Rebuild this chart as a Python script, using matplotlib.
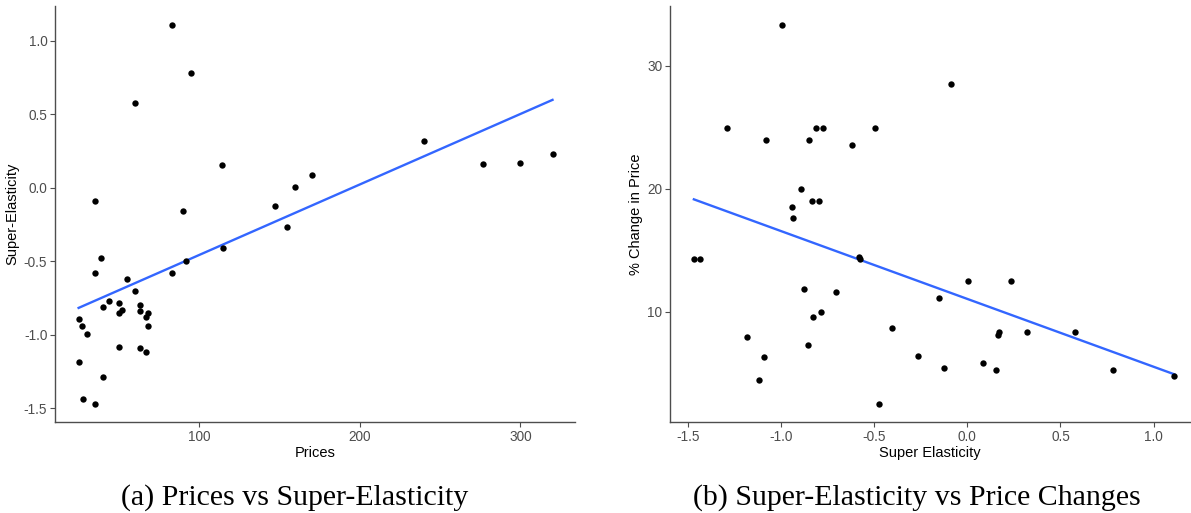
import matplotlib

matplotlib.use("Agg")
import matplotlib.pyplot as plt
import numpy as np

# one row per product: price, super-elasticity, % change in price
prices = [83, 94.8, 60, 240, 320, 300, 277, 114, 170, 160,
          35, 147, 90, 155, 115, 39, 92, 35, 83, 55,
          60, 44, 50, 63, 40, 52, 63, 50, 68, 67,
          25, 68, 27, 30, 50, 63, 67, 25, 40, 28, 35]
super_el = [1.11, 0.78, 0.58, 0.32, 0.232, 0.172, 0.166, 0.155, 0.086, 0.005,
            -0.088, -0.125, -0.154, -0.266, -0.406, -0.475, -0.495, -0.575, -0.58, -0.62,
            -0.704, -0.772, -0.785, -0.798, -0.81, -0.829, -0.834, -0.849, -0.853, -0.876,
            -0.894, -0.936, -0.942, -0.992, -1.082, -1.089, -1.118, -1.183, -1.287, -1.434, -1.467]
pct_change = [4.82, 5.25, 8.34, 8.34, 12.48, 8.34, 8.12, 5.25, 5.88, 12.48,
              28.55, 5.44, 11.1, 6.44, 8.67, 2.55, 24.98, 14.3, 14.5, 23.6,
              11.64, 24.98, 10.0, 19.03, 24.98, 9.59, 19.03, 23.98, 7.34, 11.9,
              20.0, 17.6, 18.5, 33.3, 23.98, 6.34, 4.47, 7.99, 24.98, 14.26, 14.26]

prices = np.array(prices)
super_el = np.array(super_el)
pct_change = np.array(pct_change)

W, H = 1191, 513
BLUE = "#3366FF"
AXC = "#4d4d4d"
SANS = ["Liberation Sans", "DejaVu Sans"]
SERIF = ["Liberation Serif", "DejaVu Serif"]

fig = plt.figure(figsize=(W / 100, H / 100), dpi=100)


def px_axes(x0, x1, y0, y1):
    return fig.add_axes([x0 / W, 1 - y1 / H, (x1 - x0) / W, (y1 - y0) / H])


def style(ax):
    for s in ("top", "right"):
        ax.spines[s].set_visible(False)
    for s in ("left", "bottom"):
        ax.spines[s].set_color(AXC)
        ax.spines[s].set_linewidth(1.0)
    ax.tick_params(colors=AXC, length=3.5, width=0.8, labelsize=9.8, pad=2)
    for lab in ax.get_xticklabels() + ax.get_yticklabels():
        lab.set_family(SANS)


def scatter_fit(ax, x, y):
    ax.scatter(x, y, s=21, color="black", zorder=3, linewidths=0)
    b, a = np.polyfit(x, y, 1)
    xs = np.array([x.min(), x.max()])
    ax.plot(xs, a + b * xs, color=BLUE, lw=1.7, zorder=2)


# (a) prices vs super-elasticity
ax1 = px_axes(55, 575, 6, 422)
scatter_fit(ax1, prices, super_el)
ax1.set_xlim(10.3, 334)
ax1.set_ylim(-1.592, 1.238)
ax1.set_xticks([100, 200, 300])
ax1.set_yticks([-1.5, -1.0, -0.5, 0.0, 0.5, 1.0])
ax1.set_yticklabels(["-1.5", "-1.0", "-0.5", "0.0", "0.5", "1.0"])
style(ax1)
ax1.set_xlabel("Prices", fontsize=10.5, family=SANS, labelpad=2)
ax1.set_ylabel("Super-Elasticity", fontsize=10.5, family=SANS, labelpad=3)

# (b) super-elasticity vs % change in price
ax2 = px_axes(670, 1190, 6, 422)
scatter_fit(ax2, super_el, pct_change)
ax2.set_xlim(-1.595, 1.195)
ax2.set_ylim(1.06, 34.85)
ax2.set_xticks([-1.5, -1.0, -0.5, 0.0, 0.5, 1.0])
ax2.set_xticklabels(["-1.5", "-1.0", "-0.5", "0.0", "0.5", "1.0"])
ax2.set_yticks([10, 20, 30])
style(ax2)
ax2.set_xlabel("Super Elasticity", fontsize=10.5, family=SANS, labelpad=2)
ax2.set_ylabel("% Change in Price", fontsize=10.5, family=SANS, labelpad=3)

# captions
fig.text(295 / W, 1 - 505 / H, "(a) Prices vs Super-Elasticity",
         ha="center", va="baseline", fontsize=21.5, family=SERIF)
fig.text(917 / W, 1 - 505 / H, "(b) Super-Elasticity vs Price Changes",
         ha="center", va="baseline", fontsize=21.5, family=SERIF)

fig.savefig("out.png", dpi=100)
